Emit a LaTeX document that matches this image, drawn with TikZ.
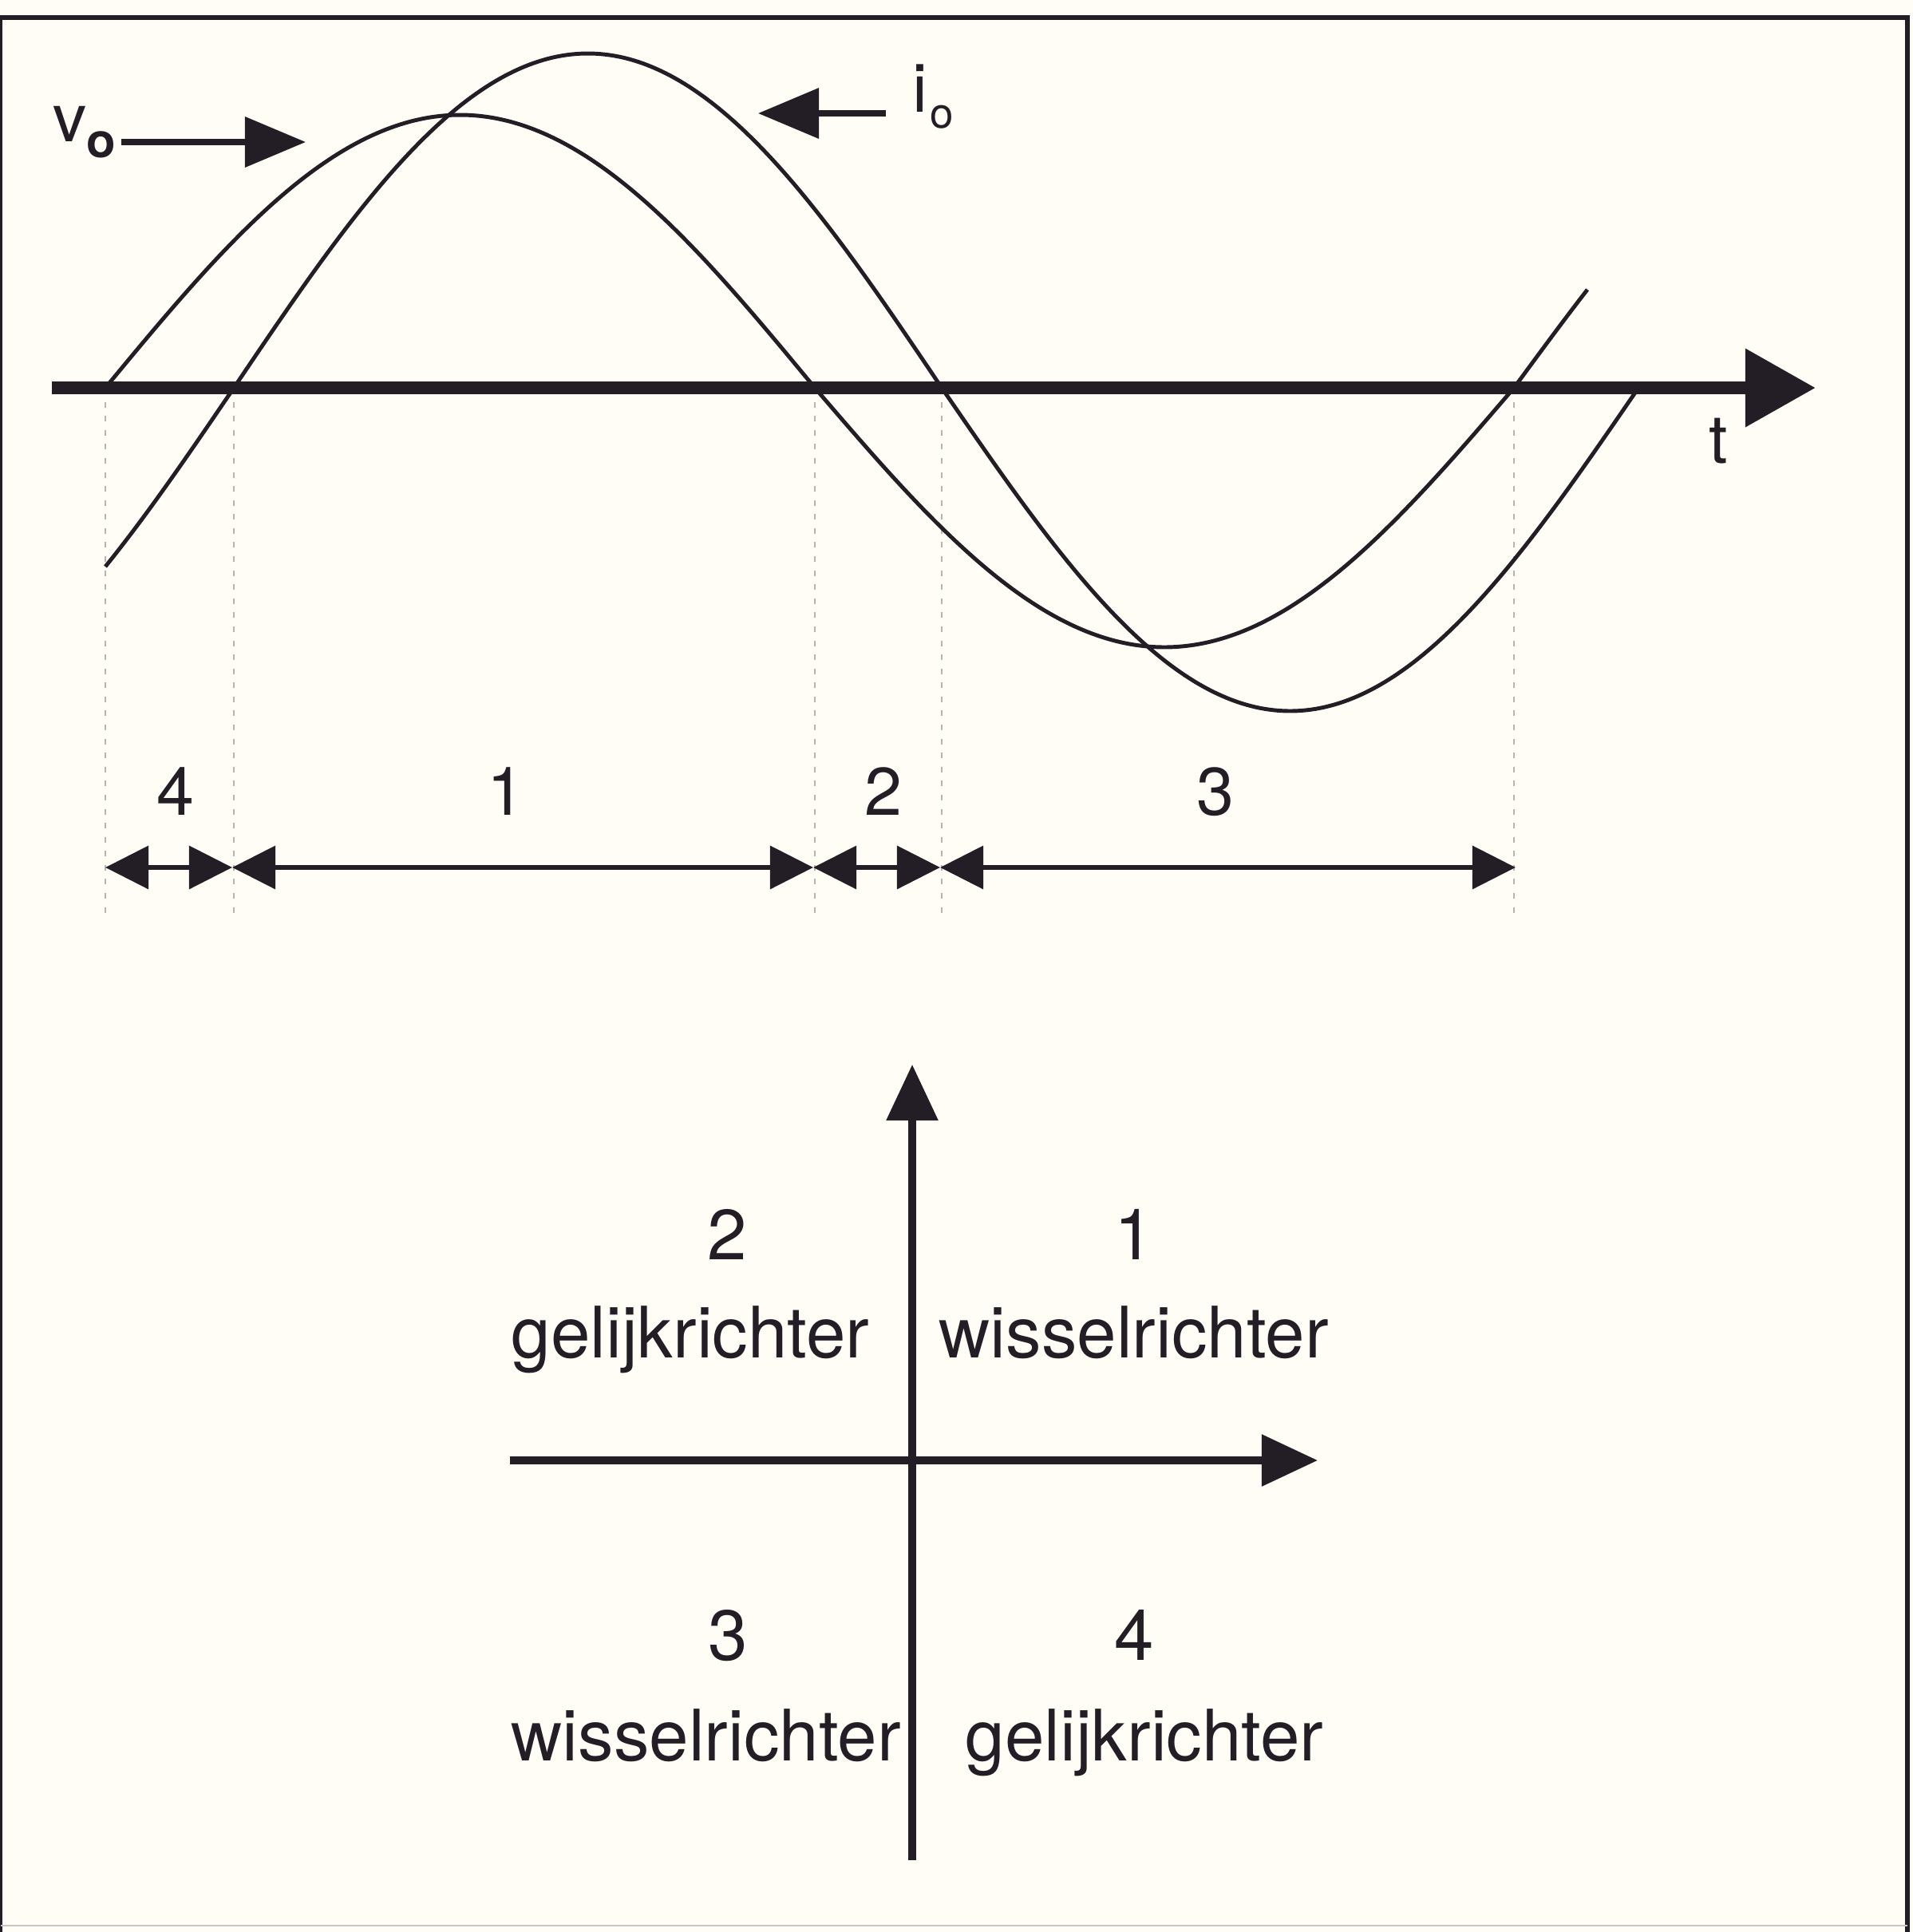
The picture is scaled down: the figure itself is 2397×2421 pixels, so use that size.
\documentclass[tikz,border=0pt]{standalone}
\usepackage{fontspec}
\setmainfont{TeX Gyre Heros}
\usetikzlibrary{arrows.meta}
\definecolor{ink}{RGB}{35,30,38}
\definecolor{paper}{RGB}{255,253,246}
\definecolor{dotgray}{RGB}{180,180,180}
\begin{document}
\begin{tikzpicture}[x=0.01cm, y=-0.01cm,
  curve/.style={draw=ink, line width=1.4pt, line join=round},
  taxis/.style={draw=ink, line width=4.8pt, -{Triangle[length=0.88cm, width=0.94cm]}},
  qaxis/.style={draw=ink, line width=2.6pt, -{Triangle[length=0.70cm, width=0.63cm]}},
  iarrow/.style={draw=ink, line width=1.9pt, {Triangle[length=0.54cm, width=0.53cm]}-{Triangle[length=0.54cm, width=0.53cm]}},
  larrow/.style={draw=ink, line width=2pt, -{Triangle[length=0.76cm, width=0.62cm]}},
  dotline/.style={draw=dotgray, line width=0.7pt, dash pattern=on 2pt off 3pt},
  lbl/.style={font=\fontsize{24}{28}\selectfont, inner sep=0pt, text=ink},
  qlbl/.style={font=\fontsize{25.3}{30}\selectfont, inner sep=0pt, text=ink},
  frame/.style={draw=ink, line width=1.6pt}
]
% background and frame
\fill[paper] (0,0) rectangle (2397,2421);
\useasboundingbox (0,0) rectangle (2397,2421);
\draw[frame] (0,22) -- (2390,22) -- (2390,2421);
\draw[draw=ink, line width=0.9pt] (1.5,22) -- (1.5,2421);
\draw[draw=gray!45, line width=0.6pt] (1.5,2413) -- (2390,2413);

% zero crossing coordinates
\coordinate (z0) at (132,486);
\coordinate (z1) at (293,486);
\coordinate (z2) at (1021,486);
\coordinate (z3) at (1180,486);
\coordinate (z4) at (1897,486);
\coordinate (dotend) at (0,1150);

% dotted guide lines
\foreach \z in {z0,z1,z2,z3,z4}{
  \draw[dotline] (\z) -- (\z |- dotend);
}

% curves
\draw[curve] plot[domain=132:1021, samples=150] (\x,{486 - 342*sin((\x-132)/889*180)})
  -- plot[domain=1021:1897, samples=150] (\x,{486 + 325*sin((\x-1021)/876*180)})
  -- plot[domain=1897:1989, samples=20] (\x,{486 - 380*sin((\x-1897)/876*180)});
\draw[curve] plot[domain=132:293, samples=40] (\x,{486 + 415*sin((293-\x)/887*180)})
  -- plot[domain=293:1180, samples=150] (\x,{486 - 419*sin((\x-293)/887*180)})
  -- plot[domain=1180:2053, samples=150] (\x,{486 + 405*sin((\x-1180)/873*180)});

% time axis
\coordinate (tstart) at (65,486);
\coordinate (tend) at (2275,486);
\draw[taxis] (tstart) -- (tend);
\node[lbl, anchor=base] (tl) at (2153,580) {t};

% curve labels
\node[lbl, anchor=base west] (vo) at (66,177) {v\raisebox{-5.7pt}{\fontsize{17}{17}\selectfont\bfseries o}};
\coordinate (vtip) at (383,178);
\draw[larrow] (vo.east |- vtip) ++(6,0) -- (vtip);
\node[lbl, anchor=base west] (io) at (1143,140) {i\kern1pt\raisebox{-5.7pt}{\fontsize{15}{15}\selectfont o}};
\coordinate (itail) at (1110,142);
\coordinate (itip) at (950,142);
\draw[larrow] (itail) -- (itip);

% interval arrows
\coordinate (a0) at (132,1087);
\coordinate (a1) at (291,1087);
\coordinate (a2) at (1019,1087);
\coordinate (a3) at (1178,1087);
\coordinate (a4) at (1899,1087);
\draw[iarrow] (a0) -- (a1);
\draw[iarrow] (a1) -- (a2);
\draw[iarrow] (a2) -- (a3);
\draw[iarrow] (a3) -- (a4);
\node[lbl, anchor=base] (n4) at (220,1021) {4};
\node[lbl, anchor=base] (n1) at (634,1021) {1};
\node[lbl, anchor=base] (n2) at (1107,1021) {2};
\node[lbl, anchor=base] (n3) at (1523,1021) {3};

% quadrant diagram
\coordinate (qb) at (1143,2331);
\coordinate (qt) at (1143,1334);
\coordinate (ql) at (639,1830);
\coordinate (qr) at (1651,1830);
\draw[qaxis] (qb) -- (qt);
\draw[qaxis] (ql) -- (qr);
\node[qlbl, anchor=base] (q2) at (911,1578) {2};
\node[qlbl, anchor=base] (q1) at (1421,1578) {1};
\node[qlbl, anchor=base west] (q2t) at (640,1701) {gelijkrichter};
\node[qlbl, anchor=base west] (q1t) at (1176,1701) {wisselrichter};
\node[qlbl, anchor=base] (q3) at (912,2080) {3};
\node[qlbl, anchor=base] (q4) at (1421,2080) {4};
\node[qlbl, anchor=base west] (q3t) at (640,2206) {wisselrichter};
\node[qlbl, anchor=base west] (q4t) at (1209,2206) {gelijkrichter};
\end{tikzpicture}
\end{document}
